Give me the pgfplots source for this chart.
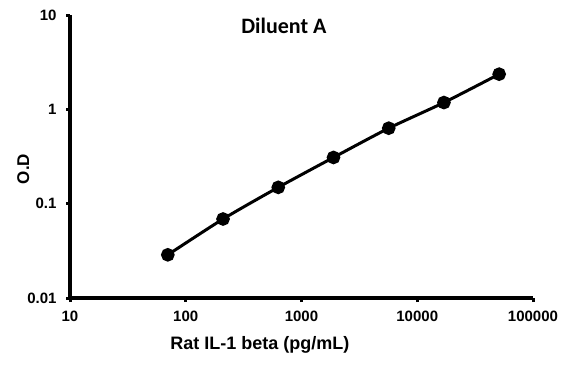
\documentclass[border=0pt]{standalone}
\usepackage{pgfplots}
\pgfplotsset{compat=1.18}
\usepackage{fontspec}
\setmainfont{Liberation Sans}
\newfontfamily\calibri{Carlito}
\begin{document}
\begin{tikzpicture}
\useasboundingbox (-70pt,-67pt) rectangle (498pt,298pt);
\begin{axis}[
  at={(0,0)}, anchor=south west,
  scale only axis, width=463pt, height=283pt,
  xmode=log, ymode=log,
  xmin=10, xmax=100000, ymin=0.01, ymax=10,
  axis lines=left,
  axis line style={line width=3.4pt, -},
  xtick={10,100,1000,10000,100000},
  xticklabels={10,100,1000,10000,100000},
  ytick={0.01,0.1,1,10},
  yticklabels={0.01,0.1,1,10},
  /pgf/number format/assume math mode=true,
  minor tick num=0, minor tick length=0pt,
  tick align=outside, major tick length=4pt,
  major tick style={line width=3pt, black},
  tick label style={font=\fontsize{15}{17}\selectfont\bfseries},
  xticklabel style={yshift=-5pt},
  yticklabel style={xshift=-6pt},
  xlabel={Rat IL-1 beta (pg/mL)},
  ylabel={O.D},
  xlabel style={font=\fontsize{18}{20}\selectfont\bfseries, at={(ticklabel cs:0.41)}, yshift=-8pt},
  ylabel style={font=\fontsize{17}{20}\selectfont\bfseries, at={(ticklabel cs:0.456)}, yshift=-9pt},
  clip=false,
]
\addplot[black, line width=3pt, smooth, tension=0.4, mark=*, mark size=5.3pt, mark options={solid, fill=black}]
coordinates {
(70,0.0287)
(210,0.0688)
(630,0.149)
(1890,0.309)
(5670,0.631)
(17000,1.18)
(51000,2.36)
};
\node[font=\fontsize{22}{24}\selectfont\calibri\bfseries] at (rel axis cs:0.462,0.961) {Diluent A};
\end{axis}
\end{tikzpicture}
\end{document}
